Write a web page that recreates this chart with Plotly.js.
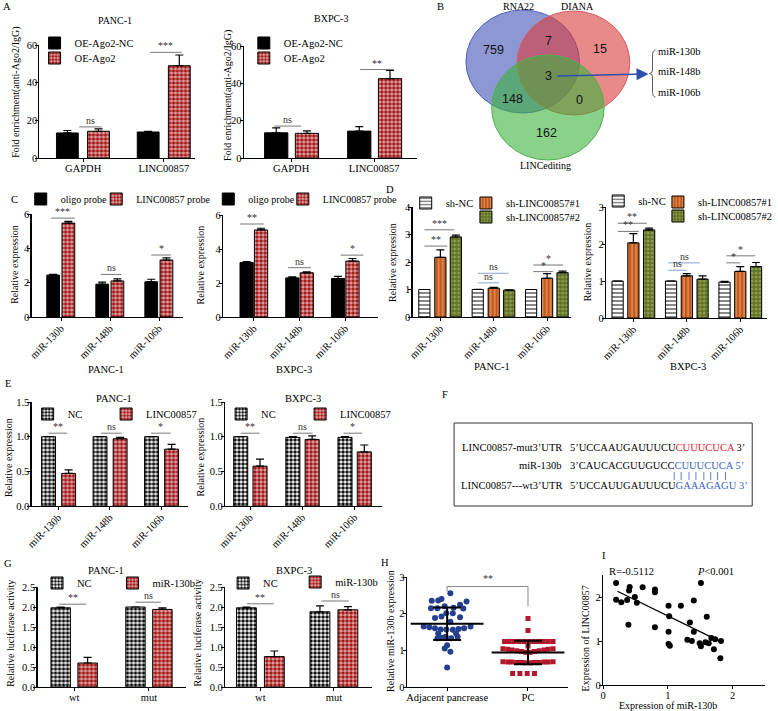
<!DOCTYPE html>
<html>
<head>
<meta charset="utf-8">
<script src="https://cdn.plot.ly/plotly-3.0.1.min.js"></script>
<style>
  html, body { margin: 0; padding: 0; background: #fff; }
  #chart { width: 778px; height: 711px; }
</style>
</head>
<body>
<div id="chart"></div>
<script>
const W = 778, H = 711;
const SERIF = "Liberation Serif, Times New Roman, serif";
const SANS = "Liberation Sans, Arial, sans-serif";

// ---- A: RIP, fold enrichment ----
const aCats = ["GAPDH", "LINC00857"];
const aPancNC = [13.3, 13.8], aPancNCErr = [1.3, 0.4];
const aPancOE = [14.2, 49.0], aPancOEErr = [1.3, 5.7];
const aBxpcNC = [13.5, 14.4], aBxpcNCErr = [2.6, 2.4];
const aBxpcOE = [13.2, 42.5], aBxpcOEErr = [1.3, 4.4];

// ---- B: Venn counts ----
const vennSets = ["RNA22", "DIANA", "LINCediting"];
const vennCounts = ["759", "7", "15", "3", "148", "0", "162"];
const vennHits = ["miR-130b", "miR-148b", "miR-106b"];

// ---- C: pull-down ----
const mirCats = ["miR-130b", "miR-148b", "miR-106b"];
const cPancOligo = [2.44, 1.91, 2.05], cPancOligoErr = [0.05, 0.12, 0.15];
const cPancProbe = [5.47, 2.10, 3.32], cPancProbeErr = [0.10, 0.12, 0.12];
const cBxpcOligo = [3.20, 2.30, 2.26], cBxpcOligoErr = [0.06, 0.06, 0.13];
const cBxpcProbe = [5.12, 2.60, 3.29], cBxpcProbeErr = [0.10, 0.05, 0.15];

// ---- D: knockdown ----
const dPancNC = [1.0, 1.0, 1.0], dPancNCErr = [0.0, 0.01, 0.0];
const dPancSh1 = [2.17, 1.05, 1.41], dPancSh1Err = [0.27, 0.03, 0.17];
const dPancSh2 = [2.91, 0.98, 1.61], dPancSh2Err = [0.07, 0.01, 0.06];
const dBxpcNC = [1.0, 1.0, 0.97], dBxpcNCErr = [0.0, 0.0, 0.02];
const dBxpcSh1 = [2.03, 1.14, 1.26], dBxpcSh1Err = [0.25, 0.06, 0.13];
const dBxpcSh2 = [2.38, 1.05, 1.39], dBxpcSh2Err = [0.05, 0.09, 0.11];

// ---- E: overexpression ----
const ePancNC = [1.0, 1.0, 1.0], ePancNCErr = [0, 0, 0];
const ePancLinc = [0.47, 0.97, 0.82], ePancLincErr = [0.05, 0.02, 0.07];
const eBxpcNC = [1.0, 0.99, 0.99], eBxpcNCErr = [0, 0.01, 0.01];
const eBxpcLinc = [0.575, 0.96, 0.78], eBxpcLincErr = [0.10, 0.05, 0.10];

// ---- G: luciferase ----
const gCats = ["wt", "mut"];
const gPancNC = [1.98, 2.0], gPancNCErr = [0.02, 0.0];
const gPancMir = [0.60, 1.94], gPancMirErr = [0.14, 0.04];
const gBxpcNC = [1.98, 1.88], gBxpcNCErr = [0.02, 0.15];
const gBxpcMir = [0.76, 1.93], gBxpcMirErr = [0.14, 0.08];

// ---- H: tissue expression ----
const hCats = ["Adjacent pancrease", "PC"];
const hAdjX = [0.04, -0.19, -0.11, -0.07, 0.24, -0.20, -0.12, -0.03, 0.08, 0.16, 0.20, -0.15, -0.07,
  -0.01, 0.07, 0.16, 0.04, -0.29, -0.22, -0.15, -0.08, -0.01, 0.07, 0.14, 0.21, 0.29, -0.11, 0.11,
  -0.07, -0.02, 0.05, 0.13, -0.12, 0.00, -0.03, 0.04, 0.00];
const hAdjY = [2.56, 2.35, 2.36, 2.40, 2.33, 2.15, 2.15, 2.20, 2.16, 2.24, 2.14, 1.88, 1.92,
  2.01, 2.01, 1.90, 1.78, 1.65, 1.63, 1.60, 1.57, 1.57, 1.56, 1.58, 1.60, 1.65, 1.46, 1.46,
  1.34, 1.37, 1.33, 1.37, 1.33, 1.14, 1.05, 0.96, 0.53];
const hPcX = [0.00, 0.00,
  -0.29, -0.23, -0.17, -0.11, -0.05, 0.01, 0.07, 0.13, 0.19, 0.25, 0.31,
  0.00,
  -0.31, -0.25, -0.20, -0.14, -0.08, -0.03, 0.03, 0.08, 0.14, 0.20, 0.25, 0.31,
  -0.31, -0.25, -0.20, -0.14, -0.08, -0.03, 0.03, 0.08, 0.14, 0.20, 0.25, 0.31,
  -0.19, -0.10, -0.01, 0.08];
const hPcY = [1.87, 1.54,
  1.24, 1.24, 1.24, 1.24, 1.24, 1.24, 1.24, 1.24, 1.24, 1.24, 1.24,
  1.12,
  1.04, 1.03, 1.01, 0.99, 0.97, 0.95, 0.95, 0.97, 0.99, 1.01, 1.03, 1.04,
  0.69, 0.68, 0.68, 0.67, 0.67, 0.66, 0.66, 0.67, 0.67, 0.68, 0.68, 0.69,
  0.37, 0.37, 0.37, 0.37];
const hMean = [1.725, 0.94], hSD = [0.445, 0.32];

// ---- I: correlation ----
const iX = [0.20, 0.20, 0.28, 0.37, 0.40, 0.41, 0.49, 0.52, 0.61, 0.80, 0.80, 0.39, 0.80, 1.01, 1.02,
  1.01, 1.01, 1.03, 1.20, 1.34, 1.40, 1.51, 1.40, 1.30, 1.37, 1.60, 1.49, 1.51, 1.58, 1.63, 1.67,
  1.73, 1.71, 1.81, 1.82];
const iY = [2.32, 1.94, 1.88, 1.93, 2.15, 2.23, 2.00, 1.87, 2.22, 2.17, 2.11, 1.37, 1.31, 1.80, 1.56,
  1.21, 0.93, 0.89, 1.80, 1.42, 1.92, 2.32, 1.21, 1.03, 1.00, 1.55, 0.95, 0.88, 0.97, 0.95, 1.07,
  1.04, 0.81, 0.61, 1.00];
const iFitX = [0.22, 1.78], iFitY = [2.13, 1.01];

// ---------------------------------------------------------------
const px = x => x / W;
const py = y => 1 - y / H;
const sx = n => (n === 1 ? "" : String(n));

const traces = [];
const layout = {
  width: W, height: H,
  margin: {l: 0, r: 0, t: 0, b: 0},
  paper_bgcolor: "white", plot_bgcolor: "rgba(0,0,0,0)",
  barmode: "overlay", showlegend: true,
  font: {family: SERIF, size: 10.5, color: "black"},
  shapes: [], annotations: []
};

function addAxes(n, xPx, yPx, xRange, yRange, xOpts, yOpts) {
  const base = {
    showline: true, linecolor: "black", linewidth: 1.2, showgrid: false, zeroline: false,
    ticks: "outside", ticklen: 3, tickwidth: 1, tickcolor: "black",
    tickfont: {family: SERIF, size: 10.5, color: "black"}, fixedrange: true
  };
  layout["xaxis" + sx(n)] = Object.assign({}, base,
    {domain: [px(xPx[0]), px(xPx[1])], range: xRange, anchor: "y" + sx(n), ticklabelstandoff: -3}, xOpts);
  layout["yaxis" + sx(n)] = Object.assign({}, base,
    {domain: [py(yPx[1]), py(yPx[0])], range: yRange, anchor: "x" + sx(n), ticklabelstandoff: -4}, yOpts);
}

const catAxis = (cats, angle) => ({tickvals: cats.map((_, i) => i), ticktext: cats, tickangle: angle || 0});

// one legend per entry so each swatch sits where the figure has it
let legendCount = 0;
function addLegend(cx, cy, size) {
  legendCount++;
  const id = legendCount === 1 ? "legend" : "legend" + legendCount;
  layout[id] = {
    x: px(cx - 20), y: py(cy), xanchor: "left", yanchor: "middle",
    bgcolor: "rgba(0,0,0,0)", borderwidth: 0, itemwidth: 30,
    font: {family: SERIF, size: size || 10.5, color: "black"}
  };
  return id;
}

function barTrace(n, vals, errs, name, offset, width, fill, legendId) {
  const marker = {line: {color: "black", width: 1}};
  if (fill.shape) {
    marker.color = fill.bgcolor;
    marker.pattern = fill;
  } else {
    marker.color = fill.color;
  }
  traces.push({
    type: "bar", x: vals.map((_, i) => i), y: vals, name,
    xaxis: "x" + sx(n), yaxis: "y" + sx(n), offset, width, marker,
    error_y: {type: "data", symmetric: false, array: errs, arrayminus: errs.map(() => 0),
      color: "black", thickness: 1.2, width: 4},
    legend: legendId, hoverinfo: "skip"
  });
}

function addSig(n, list) {
  list.forEach(([x0, x1, y, label, c]) => {
    layout.shapes.push({type: "line", xref: "x" + sx(n), yref: "y" + sx(n), x0, x1, y0: y, y1: y,
      line: {color: c || "#777", width: 1}});
    layout.annotations.push({xref: "x" + sx(n), yref: "y" + sx(n), x: (x0 + x1) / 2, y, text: label,
      showarrow: false, yanchor: "bottom", yshift: -1,
      font: {family: SERIF, size: 10, color: "#333"}});
  });
}

function note(text, x, y, opts) {
  layout.annotations.push(Object.assign({
    xref: "paper", yref: "paper", x: px(x), y: py(y), text, showarrow: false,
    xanchor: "center", yanchor: "middle",
    font: {family: SERIF, size: 10.5, color: "black"}
  }, opts || {}));
}
const ytitle = (text, x, y) => note(text, x, y, {textangle: -90, font: {family: SERIF, size: 10, color: "black"}});

const black = {color: "black"};
const redCheck = {shape: ".", bgcolor: "#e9a9a9", fgcolor: "#9e1a1a", size: 4, solidity: 0.6};
const bwCheck = {shape: ".", bgcolor: "#ffffff", fgcolor: "#111111", size: 4, solidity: 0.6};
const hStripe = {shape: "-", bgcolor: "#ffffff", fgcolor: "#555555", size: 4, solidity: 0.35};
const orangeStripe = {shape: "|", bgcolor: "#c25819", fgcolor: "#e9a070", size: 4, solidity: 0.3};
const oliveCheck = {shape: ".", bgcolor: "#5f7124", fgcolor: "#8d9c4e", size: 4, solidity: 0.45};
const nsBlue = "#8aa0d8";

// ---- A ----
addAxes(1, [40, 198], [45, 158], [-0.54, 1.39], [0, 60], catAxis(aCats), {dtick: 20});
addAxes(2, [247, 422], [46, 158], [-0.57, 1.51], [0, 60], catAxis(aCats), {dtick: 20});
barTrace(1, aPancNC, aPancNCErr, "OE-Ago2-NC", -0.33, 0.27, black, addLegend(55, 43));
barTrace(1, aPancOE, aPancOEErr, "OE-Ago2", 0.055, 0.27, redCheck, addLegend(55, 58));
barTrace(2, aBxpcNC, aBxpcNCErr, "OE-Ago2-NC", -0.32, 0.28, black, addLegend(267, 43));
barTrace(2, aBxpcOE, aBxpcOEErr, "OE-Ago2", 0.05, 0.28, redCheck, addLegend(267, 58));
addSig(1, [[-0.05, 0.23, 16.5, "ns"], [0.83, 1.22, 56.1, "***"]]);
addSig(2, [[-0.2, 0.12, 17.1, "ns"], [0.83, 1.23, 47.4, "**"]]);
note("A", 7, 7);
note("PANC-1", 117, 20, {font: {family: SERIF, size: 10, color: "black"}});
note("BXPC-3", 335, 18, {font: {family: SERIF, size: 10, color: "black"}});
ytitle("Fold enrichment(anti-Ago2/IgG)", 16, 92);
ytitle("Fold enrichment(anti-Ago2/IgG)", 231, 96);

// ---- B ----
const venn = [
  {x0: 472, x1: 587, y0: 10, y1: 113, fill: "rgba(63,81,181,0.6)", line: "#5162c0"},
  {x0: 524, x1: 638, y0: 11, y1: 115, fill: "rgba(218,60,60,0.6)", line: "#d85a5a"},
  {x0: 498, x1: 612, y0: 55, y1: 160, fill: "rgba(60,178,60,0.6)", line: "#50b050"}
];
venn.forEach(v => layout.shapes.push({type: "circle", xref: "paper", yref: "paper",
  x0: px(v.x0), x1: px(v.x1), y0: py(v.y1), y1: py(v.y0), fillcolor: v.fill, line: {color: v.line, width: 1}}));
const vennPos = [[500, 50], [556, 41], [608, 49], [556, 76], [519, 99], [587, 100], [554, 133]];
vennCounts.forEach((t, i) => note(t, vennPos[i][0], vennPos[i][1], {font: {family: SANS, size: 12.5, color: "#111"}}));
note(vennSets[0], 525, 6, {font: {family: SERIF, size: 10, color: "black"}});
note(vennSets[1], 585, 6, {font: {family: SERIF, size: 10, color: "black"}});
note(vennSets[2], 553, 165, {font: {family: SERIF, size: 10, color: "black"}});
note("B", 446, 7);
layout.annotations.push({xref: "paper", yref: "paper", axref: "paper", ayref: "paper",
  x: px(657), y: py(74), ax: px(563), ay: py(76), text: "", showarrow: true,
  arrowhead: 2, arrowsize: 1.6, arrowwidth: 1.5, arrowcolor: "#2c4fb0"});
const braceX = [664, 661, 658];
const braceY = [50, 73.5, 97];
layout.shapes.push({type: "path", xref: "paper", yref: "paper", line: {color: "#333", width: 0.8},
  path: `M${px(braceX[0])},${py(braceY[0])} Q${px(braceX[1])},${py(braceY[0])} ${px(braceX[1])},${py(56)}` +
    ` L${px(braceX[1])},${py(70)} Q${px(braceX[1])},${py(braceY[1])} ${px(braceX[2])},${py(braceY[1])}` +
    ` Q${px(braceX[1])},${py(braceY[1])} ${px(braceX[1])},${py(77)} L${px(braceX[1])},${py(91)}` +
    ` Q${px(braceX[1])},${py(braceY[2])} ${px(braceX[0])},${py(braceY[2])}`});
[52, 72, 93].forEach((y, i) => note(vennHits[i], 665, y, {xanchor: "left", font: {family: SERIF, size: 10.5, color: "black"}}));

// ---- C ----
addAxes(3, [32, 185], [214, 317], [-0.6, 2.48], [0, 6], catAxis(mirCats, -45), {dtick: 2});
addAxes(4, [226, 383], [215, 317], [-0.67, 2.72], [0, 6], catAxis(mirCats, -45), {dtick: 2});
barTrace(3, cPancOligo, cPancOligoErr, "oligo probe", -0.29, 0.26, black, addLegend(41, 199, 10));
barTrace(3, cPancProbe, cPancProbeErr, "LINC00857 probe", 0.02, 0.26, redCheck, addLegend(117.5, 199, 10));
barTrace(4, cBxpcOligo, cBxpcOligoErr, "oligo probe", -0.3, 0.29, black, addLegend(231, 199, 10));
barTrace(4, cBxpcProbe, cBxpcProbeErr, "LINC00857 probe", 0.015, 0.29, redCheck, addLegend(306.5, 199, 10));
addSig(3, [[-0.2, 0.28, 5.76, "***"], [0.81, 1.23, 2.48, "ns"], [1.84, 2.24, 3.61, "*"]]);
addSig(4, [[-0.3, 0.22, 5.47, "**"], [0.75, 1.25, 2.9, "ns"], [1.9, 2.4, 3.64, "*"]]);
note("C", 15, 199);
ytitle("Relative expression", 14, 264);
ytitle("Relative expression", 203, 265);
note("PANC-1", 107, 369);
note("BXPC-3", 298, 369);

// ---- D ----
addAxes(5, [418, 578], [207, 317], [-0.52, 2.44], [0, 4], catAxis(mirCats, -45), {dtick: 1});
addAxes(6, [614, 777], [207, 318], [-0.51, 2.5], [0, 3], catAxis(mirCats, -45), {dtick: 1});
barTrace(5, dPancNC, dPancNCErr, "sh-NC", -0.405, 0.21, hStripe, addLegend(431, 203));
barTrace(5, dPancSh1, dPancSh1Err, "sh-LINC00857#1", -0.105, 0.21, orangeStripe, addLegend(492, 203));
barTrace(5, dPancSh2, dPancSh2Err, "sh-LINC00857#2", 0.185, 0.21, oliveCheck, addLegend(492, 217));
barTrace(6, dBxpcNC, dBxpcNCErr, "sh-NC", -0.4, 0.21, hStripe, addLegend(626, 201));
barTrace(6, dBxpcSh1, dBxpcSh1Err, "sh-LINC00857#1", -0.105, 0.21, orangeStripe, addLegend(686.5, 202));
barTrace(6, dBxpcSh2, dBxpcSh2Err, "sh-LINC00857#2", 0.19, 0.21, oliveCheck, addLegend(686.5, 216));
addSig(5, [[-0.3, 0.13, 2.58, "**"], [-0.3, 0.26, 3.17, "***"], [0.7, 1.1, 1.24, "ns", nsBlue],
  [0.7, 1.28, 1.59, "ns", nsBlue], [1.74, 2.11, 1.65, "*"], [1.74, 2.3, 1.89, "*"]]);
addSig(6, [[-0.29, 0.1, 2.34, "**"], [-0.29, 0.25, 2.56, "**"], [0.65, 1.0, 1.29, "ns", nsBlue],
  [0.65, 1.25, 1.49, "ns", nsBlue], [1.74, 2.0, 1.49, "*"], [1.74, 2.28, 1.68, "*"]]);
note("D", 395, 190);
ytitle("Relative expression", 397, 262);
ytitle("Relative expression", 595, 262);
note("PANC-1", 498, 366);
note("BXPC-3", 697, 366);

// ---- E ----
addAxes(7, [32, 190], [402, 506], [-0.52, 2.51], [0, 1.5], catAxis(mirCats, -45), {dtick: 0.5, tickformat: ".1f"});
addAxes(8, [228, 387], [402, 506], [-0.48, 2.53], [0, 1.5], catAxis(mirCats, -45), {dtick: 0.5, tickformat: ".1f"});
barTrace(7, ePancNC, ePancNCErr, "NC", -0.325, 0.27, bwCheck, addLegend(48, 414));
barTrace(7, ePancLinc, ePancLincErr, "LINC00857", 0.065, 0.27, redCheck, addLegend(127.5, 414));
barTrace(8, eBxpcNC, eBxpcNCErr, "NC", -0.315, 0.27, bwCheck, addLegend(244, 414));
barTrace(8, eBxpcLinc, eBxpcLincErr, "LINC00857", 0.055, 0.27, redCheck, addLegend(324, 414));
addSig(7, [[-0.19, 0.17, 1.05, "**"], [0.83, 1.23, 1.05, "ns"], [1.8, 2.18, 1.05, "*"]]);
addSig(8, [[-0.18, 0.18, 1.05, "**"], [0.82, 1.2, 1.05, "ns"], [1.79, 2.15, 1.05, "*"]]);
note("E", 8, 384);
note("PANC-1", 115, 398);
note("BXPC-3", 307, 398);
ytitle("Relative expression", 8, 457);
ytitle("Relative expression", 203, 457);

// ---- F ----
layout.shapes.push({type: "rect", xref: "paper", yref: "paper", x0: px(460), x1: px(762), y0: py(506), y1: py(423),
  line: {color: "#333", width: 1}});
note("F", 451, 394);
const fFont = {family: SERIF, size: 10.5, color: "black"};
note("LINC00857-mut3’UTR", 571, 447, {xanchor: "right", font: fFont});
note(`5’UCCAAUGAUUUCU<span style="color:#e8202a">CUUUCUCA</span> 3’`, 575, 447, {xanchor: "left", font: fFont});
note("miR-130b", 571, 466, {xanchor: "right", font: fFont});
note(`3’CAUCACGUUGUCC<span style="color:#3a5fc8">CUUUCUCA 5’</span>`, 575, 466, {xanchor: "left", font: fFont});
note("LINC00857---wt3’UTR", 571, 485, {xanchor: "right", font: fFont});
note(`5’UCCAUUGAUUUCU<span style="color:#3a5fc8">GAAAGAGU 3’</span>`, 575, 485, {xanchor: "left", font: fFont});
const pairX = [683, 690, 698, 705, 713, 720, 727, 735];
layout.shapes.push({type: "path", xref: "paper", yref: "paper", line: {color: "#3a5fc8", width: 0.8},
  path: pairX.map(x => `M${px(x)},${py(472)} L${px(x)},${py(480)}`).join(" ")});

// ---- G ----
addAxes(9, [38, 188], [587, 687], [-0.49, 1.49], [0, 2.5], catAxis(gCats), {dtick: 0.5, tickformat: ".1f"});
addAxes(10, [228, 377], [587, 687], [-0.48, 1.52], [0, 2.5], catAxis(gCats), {dtick: 0.5, tickformat: ".1f"});
barTrace(9, gPancNC, gPancNCErr, "NC", -0.31, 0.26, bwCheck, addLegend(57.5, 583));
barTrace(9, gPancMir, gPancMirErr, "miR-130b", 0.05, 0.26, redCheck, addLegend(134, 583));
barTrace(10, gBxpcNC, gBxpcNCErr, "NC", -0.325, 0.27, bwCheck, addLegend(246, 583));
barTrace(10, gBxpcMir, gBxpcMirErr, "miR-130b", 0.055, 0.27, redCheck, addLegend(319, 582));
addSig(9, [[-0.2, 0.16, 2.07, "**"], [0.82, 1.16, 2.12, "ns"]]);
addSig(10, [[-0.18, 0.18, 2.08, "**"], [0.83, 1.2, 2.15, "ns"]]);
note("G", 8, 563);
note("PANC-1", 107, 570);
note("BXPC-3", 298, 570);
ytitle("Relative luciferase activity", 10, 633);
ytitle("Relative luciferase activity", 200, 633);

// ---- H ----
addAxes(11, [412, 575], [577, 687], [-0.5, 1.49], [0, 3], catAxis(hCats), {dtick: 1});
traces.push({type: "scatter", mode: "markers", x: hAdjX, y: hAdjY, xaxis: "x11", yaxis: "y11",
  marker: {color: "#243f8e", size: 6}, showlegend: false, hoverinfo: "skip"});
traces.push({type: "scatter", mode: "markers", x: hPcX.map(v => 1 + v), y: hPcY, xaxis: "x11", yaxis: "y11",
  marker: {color: "#b2182b", size: 5, symbol: "square"}, showlegend: false, hoverinfo: "skip"});
traces.push({type: "scatter", mode: "markers", x: hMean.map((_, i) => i), y: hMean, xaxis: "x11", yaxis: "y11",
  marker: {symbol: "line-ew-open", size: 52, color: "black", line: {color: "black", width: 2}},
  error_y: {type: "data", array: hSD, color: "black", thickness: 2, width: 14},
  showlegend: false, hoverinfo: "skip"});
layout.shapes.push({type: "path", xref: "x11", yref: "y11", line: {color: "#888", width: 1},
  path: "M0,2.6 L0,2.74 L1,2.74 L1,2.2"});
layout.annotations.push({xref: "x11", yref: "y11", x: 0.5, y: 2.76, text: "**", showarrow: false,
  yanchor: "bottom", font: {family: SERIF, size: 10, color: "#333"}});
note("H", 390, 562);
ytitle("Relative miR-130b expression", 395, 631);

// ---- I ----
addAxes(12, [611, 775], [575, 685], [0, 2.5], [0, 2.5], {dtick: 1}, {dtick: 1});
traces.push({type: "scatter", mode: "markers", x: iX, y: iY, xaxis: "x12", yaxis: "y12",
  marker: {color: "black", size: 6}, showlegend: false, hoverinfo: "skip"});
traces.push({type: "scatter", mode: "lines", x: iFitX, y: iFitY, xaxis: "x12", yaxis: "y12",
  line: {color: "black", width: 1.3}, showlegend: false, hoverinfo: "skip"});
note("I", 612, 555);
note("R=-0.5112", 640, 571);
note("<i>P</i>&lt;0.001", 725, 571);
note("Expression of miR-130b", 677, 705, {font: {family: SERIF, size: 10, color: "black"}});
ytitle("Expression of LINC00857", 593, 638);

Plotly.newPlot("chart", traces, layout, {staticPlot: true, displayModeBar: false});
</script>
</body>
</html>
